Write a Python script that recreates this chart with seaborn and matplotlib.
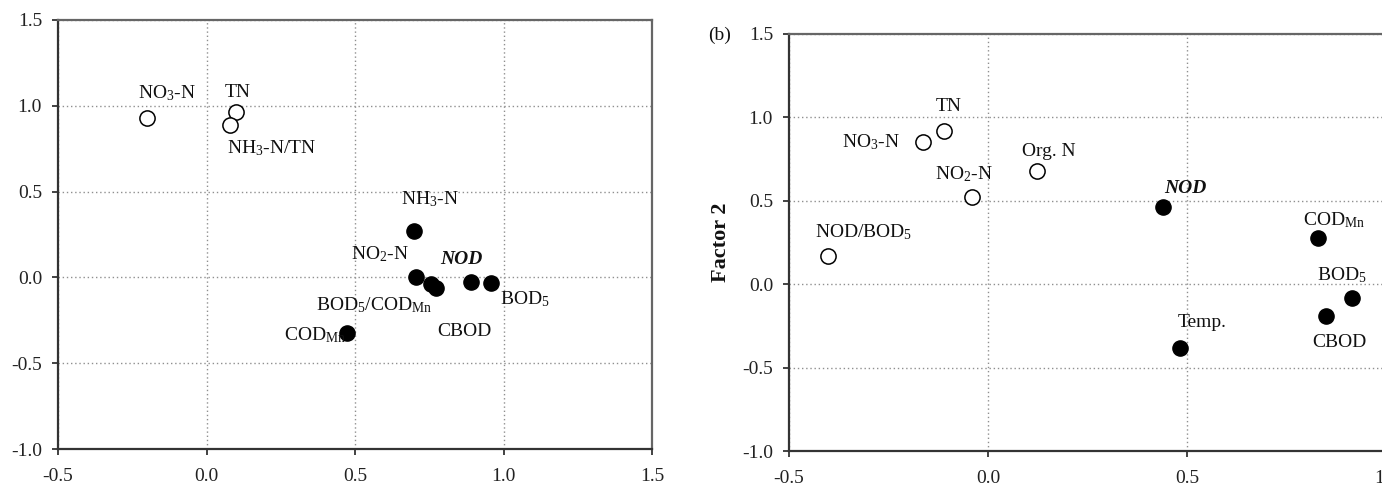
import matplotlib
matplotlib.use("Agg")
import matplotlib.pyplot as plt
import seaborn as sns
import pandas as pd

# ---------------- data ----------------
a_labels = ["NO$_3$-N", "TN", "NH$_3$-N/TN", "NH$_3$-N", "NO$_2$-N", "NOD",
            "BOD$_5$/COD$_{\\rm Mn}$", "CBOD", "BOD$_5$", "COD$_{\\rm Mn}$"]
a_x = [-0.20, 0.10, 0.08, 0.70, 0.705, 0.89, 0.755, 0.772, 0.958, 0.472]
a_y = [0.93, 0.965, 0.89, 0.27, 0.0, -0.025, -0.04, -0.06, -0.034, -0.322]
a_filled = [False, False, False, True, True, True, True, True, True, True]

b_labels = ["TN", "NO$_3$-N", "Org. N", "NO$_2$-N", "NOD", "COD$_{\\rm Mn}$",
            "NOD/BOD$_5$", "BOD$_5$", "CBOD", "Temp."]
b_x = [-0.11, -0.164, 0.123, -0.039, 0.44, 0.828, -0.403, 0.915, 0.85, 0.482]
b_y = [0.92, 0.85, 0.68, 0.52, 0.46, 0.275, 0.168, -0.08, -0.192, -0.382]
b_filled = [False, False, False, False, True, True, False, True, True, True]

ticks_x = [-0.5, 0.0, 0.5, 1.0, 1.5]
ticks_y = [-1.0, -0.5, 0.0, 0.5, 1.0, 1.5]

# ---------------- style ----------------
a_offsets = [(20, 25), (1, 19), (41, -23), (15, 32), (-36, 23), (-9, 22),
             (-57, -21), (29, -44), (34, -16), (-32, -2)]
b_offsets = [(4, 24), (-52, 0), (12, 19), (-9, 23), (22, 19), (17, 18),
             (36, 24), (-10, 22), (13, -26), (22, 25)]

sns.set_theme(style="white")
plt.rcParams["font.family"] = ["Liberation Serif", "DejaVu Serif"]
plt.rcParams["mathtext.fontset"] = "custom"
plt.rcParams["mathtext.rm"] = "Liberation Serif"
plt.rcParams["mathtext.it"] = "Liberation Serif:italic"
plt.rcParams["mathtext.bf"] = "Liberation Serif:bold"

W, H = 1382, 497
fig = plt.figure(figsize=(W / 100, H / 100), dpi=100)
fig.patch.set_facecolor("white")

axA = fig.add_axes([58 / W, 1 - 449 / H, 594 / W, 429 / H])
axB = fig.add_axes([789 / W, 1 - 451 / H, 597 / W, 417 / H])


def draw(ax, labels, xs, ys, filled, offsets, xlim):
    df = pd.DataFrame({"x": xs, "y": ys, "label": labels, "filled": filled})
    op = df[~df["filled"]]
    fl = df[df["filled"]]
    sns.scatterplot(data=op, x="x", y="y", ax=ax, s=120, facecolor="white",
                    edgecolor="black", linewidth=1.1, zorder=3, legend=False)
    sns.scatterplot(data=fl, x="x", y="y", ax=ax, s=120, color="black",
                    edgecolor="black", linewidth=1.0, zorder=3, legend=False)
    for (lab, x, y), off in zip(df[["label", "x", "y"]].values, offsets):
        kw = {}
        if lab == "NOD":
            kw = dict(fontweight="bold", fontstyle="italic")
        ax.annotate(lab, (x, y), xytext=off, textcoords="offset pixels",
                    ha="center", va="center", fontsize=14, color="#111111",
                    **kw)
    ax.set_xlim(*xlim)
    ax.set_ylim(-1.0, 1.5)
    ax.set_xticks([t for t in ticks_x if xlim[0] <= t <= xlim[1]])
    ax.set_yticks(ticks_y)
    ax.set_xticklabels([f"{t:.1f}" for t in ax.get_xticks()])
    ax.set_yticklabels([f"{t:.1f}" for t in ax.get_yticks()])
    ax.grid(True, linestyle=(0, (1, 2)), color="#8f8f8f", linewidth=1.0)
    ax.set_axisbelow(True)
    ax.tick_params(axis="both", which="major", direction="out", length=4.5,
                   width=1.2, labelsize=14, colors="#222222",
                   left=True, bottom=True)
    ax.tick_params(axis="x", pad=9)
    ax.tick_params(axis="y", pad=7)
    ax.set_xlabel("")
    ax.set_ylabel("")
    for side in ["left", "bottom"]:
        ax.spines[side].set_color("#333333")
        ax.spines[side].set_linewidth(1.6)
    for side in ["top", "right"]:
        ax.spines[side].set_color("#666666")
        ax.spines[side].set_linewidth(1.6)


draw(axA, a_labels, a_x, a_y, a_filled, a_offsets, (-0.5, 1.5))
draw(axB, b_labels, b_x, b_y, b_filled, b_offsets, (-0.5, 1.0))
axB.set_ylabel("Factor 2", fontsize=16, fontweight="bold", labelpad=8,
               color="#111111")
fig.text(720 / W, 1 - 35 / H, "(b)", fontsize=14, ha="center", va="center",
         color="#111111")

fig.savefig("out.png", dpi=100, facecolor="white")
